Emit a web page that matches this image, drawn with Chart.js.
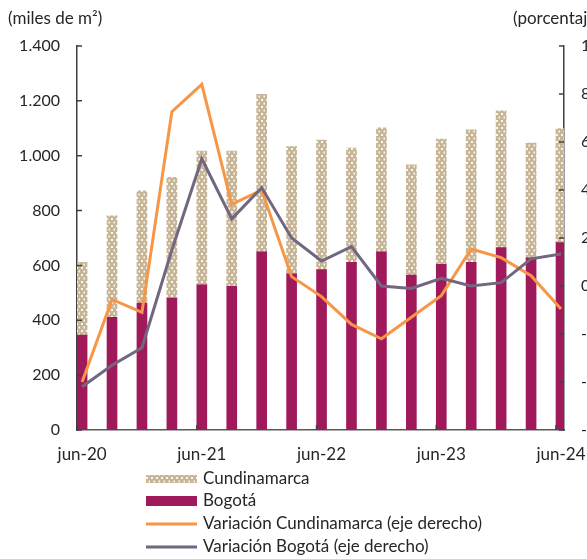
<!DOCTYPE html>
<html>
<head>
<meta charset="utf-8">
<title>Área aprobada - Bogotá y Cundinamarca</title>
<script src="https://cdn.jsdelivr.net/npm/chart.js@4.4.1/dist/chart.umd.min.js"></script>
<style>
    html, body { margin: 0; padding: 0; background: #fff; }
    #wrap { width: 587px; height: 559px; }
</style>
</head>
<body>
<div id="wrap"><canvas id="areaChart" width="587" height="559"></canvas></div>
<script>
// trimestres, de jun-20 a jun-24
const periodos = ['jun-20', 'sep-20', 'dic-20', 'mar-21', 'jun-21', 'sep-21', 'dic-21', 'mar-22', 'jun-22',
    'sep-22', 'dic-22', 'mar-23', 'jun-23', 'sep-23', 'dic-23', 'mar-24', 'jun-24'];
// miles de m2 (eje izquierdo)
const bogota = [346, 411, 463, 481, 529, 524, 650, 569, 585, 611, 650, 565, 604, 611, 665, 628, 683];
const cundinamarca = [265, 370, 409, 440, 488, 493, 574, 464, 472, 417, 452, 402, 457, 483, 499, 418, 416];
// variacion anual, porcentaje (eje derecho)
const varCundinamarca = [-40, -5.6, -11, 72.6, 84, 34, 40, 3.9, -4.4, -16, -22, -13, -4, 15.4, 11.8, 4.3, -9.6];
const varBogota = [-42, -33, -25.7, 15, 53, 28, 41, 20, 10.4, 16.4, 0, -1, 3.2, 0, 1.4, 11.3, 13.3];
// etiquetas del eje x: solo los junios
const etiquetasX = ['jun-20', 'jun-21', 'jun-22', 'jun-23', 'jun-24'];

const textColor = '#262626';
const fuente = 'Lato, "Open Sans", sans-serif';

function makeDots() {
    const c = document.createElement('canvas');
    c.width = 5;
    c.height = 7;
    const g = c.getContext('2d');
    g.fillStyle = '#C6B597';
    g.fillRect(0, 0, 5, 7);
    g.fillStyle = '#FAF7F2';
    g.fillRect(1, 1, 2, 2);
    g.fillRect(3.5, 4.5, 1.5, 2);
    return c;
}

function toXY(values) {
    return values.map((v, i) => ({ x: i, y: v }));
}

const decoraciones = {
    id: 'decoraciones',
    afterDraw: function(chart) {
        const ctx = chart.ctx;
        const area = chart.chartArea;
        const yL = chart.scales.y;
        const yR = chart.scales.y1;
        const x = chart.scales.x;

        ctx.save();
        // marcas hacia adentro
        ctx.strokeStyle = '#404040';
        ctx.lineWidth = 1.5;
        ctx.beginPath();
        yL.ticks.forEach(t => {
            const py = yL.getPixelForValue(t.value);
            ctx.moveTo(area.left, py);
            ctx.lineTo(area.left + 5, py);
        });
        yR.ticks.forEach(t => {
            const py = yR.getPixelForValue(t.value);
            ctx.moveTo(area.right, py);
            ctx.lineTo(area.right - 5, py);
        });
        x.ticks.forEach(t => {
            const px = x.getPixelForValue(t.value) - 5;
            ctx.moveTo(px, area.bottom);
            ctx.lineTo(px, area.bottom - 5);
        });
        ctx.stroke();

        // titulos de los ejes
        ctx.fillStyle = textColor;
        ctx.font = '17px ' + fuente;
        ctx.textBaseline = 'middle';
        ctx.textAlign = 'left';
        ctx.fillText('(miles de m²)', 8, 19);
        ctx.fillText('(porcentaje)', 513, 19);

        // leyenda
        const orden = [1, 0, 2, 3];
        const filas = [479, 501, 524, 547];
        orden.forEach((idx, n) => {
            const ds = chart.data.datasets[idx];
            const y = filas[n];
            if (ds.type === 'line') {
                ctx.strokeStyle = ds.borderColor;
                ctx.lineWidth = 3;
                ctx.beginPath();
                ctx.moveTo(146, y);
                ctx.lineTo(197, y);
                ctx.stroke();
            } else {
                ctx.fillStyle = ds.backgroundColor;
                const h = idx === 1 ? 8 : 10;
                ctx.fillRect(146, y - h / 2, 51, h);
            }
            ctx.fillStyle = textColor;
            ctx.fillText(ds.label, 203, y);
        });
        ctx.restore();
    }
};

function createAreaChart() {
    const ctx = document.getElementById('areaChart').getContext('2d');
    const dots = ctx.createPattern(makeDots(), 'repeat');

    new Chart(ctx, {
        data: {
            datasets: [{
                type: 'bar',
                label: 'Bogotá',
                data: toXY(bogota),
                backgroundColor: '#A0195B',
                barThickness: 10,
                order: 3
            }, {
                type: 'bar',
                label: 'Cundinamarca',
                data: toXY(cundinamarca),
                backgroundColor: dots,
                barThickness: 10,
                order: 3
            }, {
                type: 'line',
                label: 'Variación Cundinamarca (eje derecho)',
                data: toXY(varCundinamarca),
                yAxisID: 'y1',
                borderColor: '#F79646',
                borderWidth: 3,
                pointRadius: 0,
                tension: 0,
                order: 2
            }, {
                type: 'line',
                label: 'Variación Bogotá (eje derecho)',
                data: toXY(varBogota),
                yAxisID: 'y1',
                borderColor: '#716780',
                borderWidth: 3,
                pointRadius: 0,
                tension: 0,
                order: 1
            }]
        },
        options: {
            responsive: false,
            animation: false,
            devicePixelRatio: 1,
            layout: { padding: { top: 46, left: 0, right: 0, bottom: 0 } },
            scales: {
                x: {
                    type: 'linear',
                    min: -0.17,
                    max: 16.1,
                    offset: false,
                    stacked: true,
                    grid: { display: false, drawTicks: false },
                    border: { color: '#595959', width: 1.5 },
                    afterBuildTicks: function(axis) {
                        axis.ticks = etiquetasX.map(e => ({ value: periodos.indexOf(e) }));
                    },
                    ticks: {
                        autoSkip: false,
                        maxRotation: 0,
                        padding: 14,
                        color: textColor,
                        font: { family: fuente, size: 17 },
                        callback: function(value) { return periodos[value]; }
                    },
                    afterFit: function(axis) {
                        axis.height = 129;
                        axis.paddingLeft = 0;
                        axis.paddingRight = 0;
                    }
                },
                y: {
                    position: 'left',
                    stacked: true,
                    min: 0,
                    max: 1400,
                    grid: { display: false, drawTicks: false },
                    border: { color: '#404040', width: 1.5 },
                    ticks: {
                        stepSize: 200,
                        padding: 17,
                        color: textColor,
                        font: { family: fuente, size: 16 },
                        callback: function(value) {
                            return String(value).replace(/\B(?=(\d{3})+(?!\d))/g, '.');
                        }
                    },
                    afterFit: function(axis) { axis.width = 77; }
                },
                y1: {
                    position: 'right',
                    min: -60,
                    max: 100,
                    grid: { display: false, drawTicks: false },
                    border: { color: '#404040', width: 1.5 },
                    ticks: {
                        stepSize: 20,
                        padding: 17,
                        color: textColor,
                        font: { family: fuente, size: 16 }
                    },
                    afterFit: function(axis) { axis.width = 23; }
                }
            },
            plugins: {
                legend: { display: false },
                tooltip: { enabled: false }
            }
        },
        plugins: [decoraciones]
    });
}

document.fonts.load('16px Lato').then(createAreaChart, createAreaChart);
</script>
</body>
</html>
